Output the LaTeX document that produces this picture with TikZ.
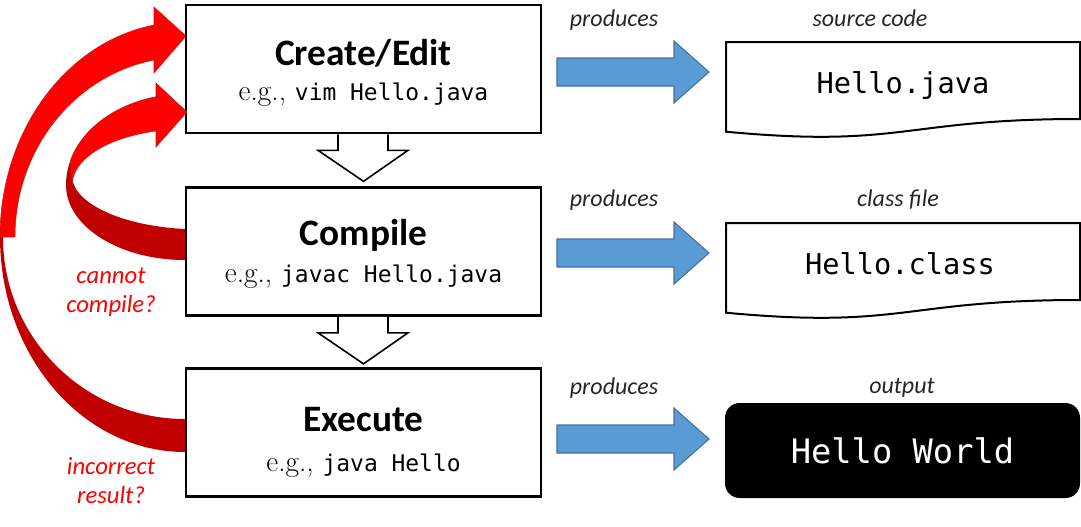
\documentclass[tikz,border=0pt]{standalone}
\usepackage{fontspec}
\newfontfamily\calibri{Carlito}
\setmonofont{DejaVu Sans Mono}
\usepackage{tikz}
\definecolor{frontred}{HTML}{FF0000}
\definecolor{backred}{HTML}{C00000}
\definecolor{prodblue}{HTML}{5B9BD5}
\definecolor{prodedge}{HTML}{41719C}
\newcommand{\cmdtext}[1]{{\ttfamily\fontsize{17.2}{20}\selectfont #1}}
\tikzset{
  stage/.style={draw, line width=2pt, minimum width=266.25pt, minimum height=96pt, inner sep=0pt},
  stagename/.style={anchor=base, font=\calibri\bfseries\fontsize{28}{30}\selectfont},
  example/.style={anchor=base, font=\fontsize{22}{24}\selectfont},
  produces/.style={anchor=base, text=black!85, font=\calibri\itshape\fontsize{18}{20}\selectfont},
  fileshape/.style={draw, line width=1.5pt, fill=white},
  filename/.style={anchor=base, font=\ttfamily\fontsize{21.5}{24}\selectfont},
  question/.style={align=center, text=frontred, font=\calibri\itshape\fontsize{18.5}{21.75}\selectfont},
  front/.style={fill=frontred, draw=backred!90, line width=0.4pt},
  back/.style={fill=backred},
  down/.style={draw, fill=white, line width=1.2pt, line join=miter},
  prodarrow/.style={draw=prodedge, fill=prodblue, line width=0.8pt}
}

\begin{document}
\begin{tikzpicture}[x=0.75pt, y=0.75pt]
      \useasboundingbox (0,0) rectangle (1081,-526);

      % the three steps
      \node[stage] (create) at (363.5,-69) {};
      \node[stage] (compile) at (363.5,-251.5) {};
      \node[stage] (execute) at (363.5,-432.5) {};
      \node[stagename] (createT) at (363.5,-65) {Create/Edit};
      \node[example] (createE) at (363.5,-100) {e.g., \cmdtext{vim Hello.java}};
      \node[stagename] (compileT) at (363.5,-245) {Compile};
      \node[example] (compileE) at (363.5,-282) {e.g., \cmdtext{javac Hello.java}};
      \node[stagename] (executeT) at (363.5,-431) {Execute};
      \node[example] (executeE) at (363.5,-471) {e.g., \cmdtext{java Hello}};

      \draw[down] (create.south) ++(-25.5,0) -- ++(0,-16) -- ++(-20,0) -- ++(45.5,-31)
        -- ++(44.5,31) -- ++(-20,0) -- ++(0,16);
      \draw[down] (compile.south) ++(-25.5,0) -- ++(0,-16) -- ++(-20,0) -- ++(45.5,-31)
        -- ++(44.5,31) -- ++(-20,0) -- ++(0,16);

      % loops back to editing
      \fill[back] (0,-237) arc[start angle=180, end angle=270, x radius=185, y radius=215]
        -- (185,-419) arc[start angle=270, end angle=180, x radius=182, y radius=182] -- cycle;
      \fill[front] (154,-25) -- (154,-7) -- (186,-36) -- (154,-73) -- (154,-60)
        arc[start angle=100.5, end angle=180, x radius=170, y radius=180] -- (0,-237)
        arc[start angle=180, end angle=99.65, x radius=185, y radius=215] -- cycle;
      \fill[back] (70.6,-160) arc[start angle=164.05, end angle=180, x radius=119, y radius=91]
        arc[start angle=180, end angle=270, x radius=119, y radius=75]
        -- (185,-229) arc[start angle=263.3, end angle=180, x radius=128, y radius=54] -- cycle;
      \fill[front] (156,-97) -- (156,-83) -- (187,-112) -- (156,-147) -- (156,-131)
        arc[start angle=104.9, end angle=180, x radius=113, y radius=56] -- (70.6,-160)
        arc[start angle=164.05, end angle=104.1, x radius=119, y radius=91] -- cycle;
      \node[question] (nocompile) at (111,-292) {cannot\\compile?};
      \node[question] (wrongresult) at (111,-481) {incorrect\\result?};

      % what each step produces
      \draw[prodarrow] (557,-58) -- (674,-58) -- (674,-41) -- (709,-72) -- (674,-103) -- (674,-86) -- (557,-86) -- cycle;
      \draw[prodarrow] (557,-239) -- (674,-239) -- (674,-222) -- (709,-253) -- (674,-284) -- (674,-267) -- (557,-267) -- cycle;
      \draw[prodarrow] (557,-425) -- (674,-425) -- (674,-408) -- (709,-439) -- (674,-470) -- (674,-453) -- (557,-453) -- cycle;
      \node[produces] (prod1) at (614,-26) {produces};
      \node[produces] (prod2) at (614,-206) {produces};
      \node[produces] (prod3) at (614,-394) {produces};

      \draw[fileshape] (726,-42) -- (1080,-42) -- (1080,-119) .. controls (903,-119) and (903,-148.3) .. (726,-131.7) -- cycle;
      \draw[fileshape] (726,-223) -- (1080,-223) -- (1080,-300) .. controls (903,-300) and (903,-329.3) .. (726,-312.7) -- cycle;
      \node[produces] (srcL) at (870,-26) {source code};
      \node[produces] (classL) at (898,-206) {class file};
      \node[produces] (outL) at (902,-393) {output};
      \node[filename] (src) at (903,-93) {Hello.java};
      \node[filename] (cls) at (900,-274) {Hello.class};
      \node[fill=black, rounded corners=11pt, minimum width=266.25pt, minimum height=71.25pt,
        text=white, font=\ttfamily\fontsize{25.3}{28}\selectfont] (out) at (902.5,-450.5) {Hello World};
\end{tikzpicture}
\end{document}
